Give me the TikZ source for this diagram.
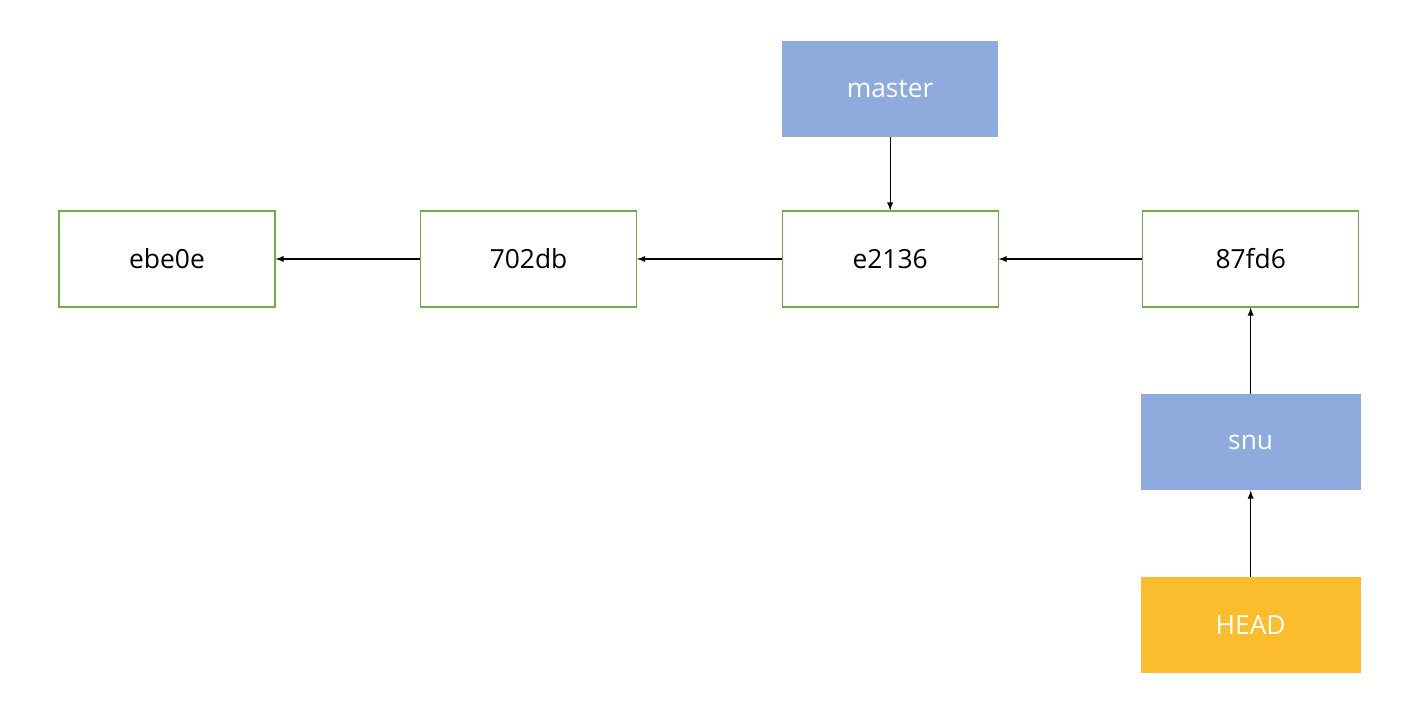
\documentclass[tikz,border=0pt]{standalone}
\usepackage{fontspec}
\setmainfont{Open Sans}
\usetikzlibrary{positioning,arrows}
\definecolor{commitgreen}{HTML}{70AD47}
\definecolor{refblue}{HTML}{8FAADC}
\definecolor{headgold}{HTML}{FBBC2E}
\begin{document}
\begin{tikzpicture}[node distance=2.89cm,->,>=latex,semithick,
		every node/.append style={minimum width=4.32cm,minimum height=1.92cm,font=\fontsize{15}{17}\selectfont},
		commit/.style={draw=commitgreen,fill=white},
		branch/.style={fill=refblue,text=white},
		head/.style={fill=headgold,text=white}]
		\useasboundingbox (0,0) rectangle (28.44,-14.44);
		\node[commit] (c1) at (3.34,-5.18) {ebe0e};
		\node[commit] (c2) [right=of c1] {702db};
		\node[commit] (c3) [right=of c2] {e2136};
		\node[commit] (c4) [right=2.87cm of c3] {87fd6};
		\node[branch] (master) [above=1.46cm of c3] {master};
		\node[branch,minimum width=4.4cm] (snu) [below=1.72cm of c4] {snu};
		\node[head,minimum width=4.4cm] (head) [below=1.72cm of snu] {HEAD};
		\draw (c2) -- (c1);
		\draw (c3) -- (c2);
		\draw (c4) -- (c3);
		\draw (master) -- (c3);
		\draw (snu) -- (c4);
		\draw (head) -- (snu);
	\end{tikzpicture}
\end{document}
